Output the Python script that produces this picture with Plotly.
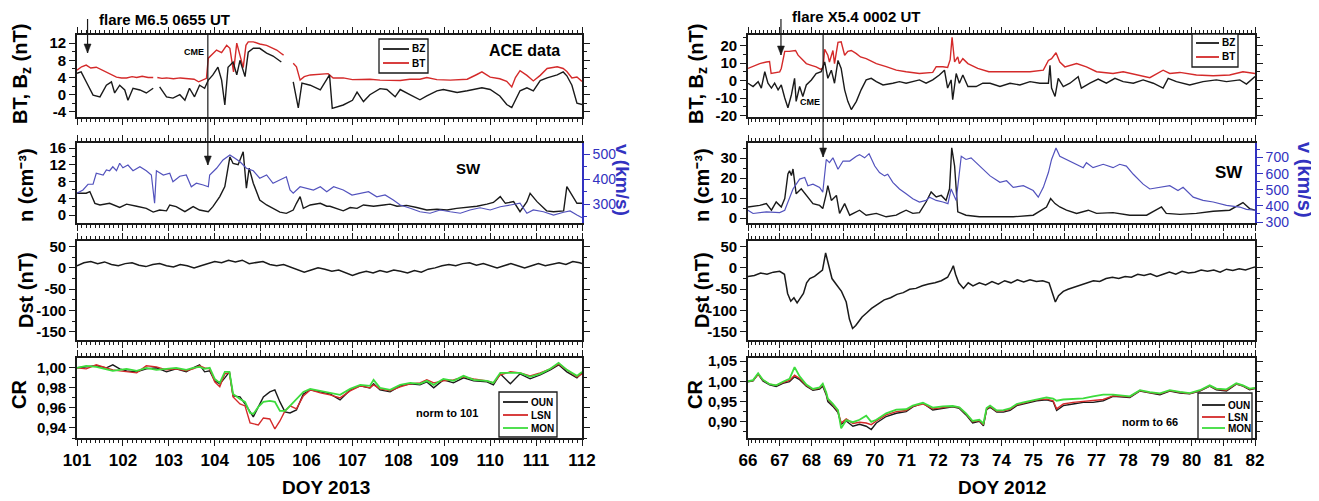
import plotly.graph_objects as go

# page has an 8px body margin: the figure is drawn 8px in from the window corner
PAGE_W, PAGE_H, OFF = 1319, 501, 8
W, H = PAGE_W - OFF, PAGE_H - OFF

# ---------------- LEFT: DOY 2013 ----------------
t_bz_L = [101.0, 101.09, 101.2, 101.35, 101.5, 101.64, 101.75, 101.82, 101.93, 102.04,
          102.11, 102.22, 102.37, 102.51, 102.66, 102.69, 102.8, 102.95, 103.09, 103.24,
          103.35, 103.45, 103.56, 103.67, 103.78, 103.86, 103.96, 104.07, 104.15, 104.22,
          104.29, 104.4, 104.48, 104.55, 104.66, 104.73, 104.84, 104.98, 105.13, 105.27,
          105.45, 105.55, 105.71, 105.82, 105.9, 106.08, 106.3, 106.44, 106.5, 106.56,
          106.8, 107.0, 107.1, 107.24, 107.38, 107.6, 107.75, 107.93, 108.04, 108.25,
          108.47, 108.62, 108.84, 108.98, 109.13, 109.28, 109.5, 109.71, 109.82, 110.0,
          110.21, 110.36, 110.47, 110.65, 110.8, 110.94, 111.09, 111.24, 111.46, 111.59,
          111.67, 111.78, 111.89, 112.0]
bz_L = [5.0, 5.3, 3.0, -0.1, -0.5, 2.2, 3.0, 0.4, 2.2, 1.1,
        -1.3, 1.5, 1.1, 0.4, 1.5, None, 1.8, -0.5, -0.8, 0.0,
        -1.3, 1.5, -0.5, 2.2, 1.5, 3.4, 4.6, 6.4, 3.4, -2.4,
        6.4, 7.6, 4.6, 8.0, 4.2, 9.9, 10.8, 10.8, 9.7, 9.0,
        7.6, None, 3.0, -3.1, 2.7, 2.2, 1.1, 3.4, 4.6, -3.2,
        -2.4, -1.3, 0.6, -1.6, 0.0, 1.4, 1.2, -0.5, 1.2, 0.0,
        -1.2, -0.3, 0.9, 1.2, 0.9, 0.5, 0.9, 1.4, 1.6, 1.2,
        -0.3, -2.3, -3.0, 0.9, 1.6, 0.9, 3.3, 3.9, 4.6, 5.3,
        4.4, 2.2, -2.0, -2.3]

t_bt_L = [101.0, 101.1, 101.2, 101.3, 101.42, 101.53, 101.64, 101.75, 101.86, 101.97,
          102.08, 102.2, 102.3, 102.42, 102.55, 102.66, 102.69, 102.75, 102.85, 102.95,
          103.1, 103.25, 103.4, 103.55, 103.65, 103.72, 103.82, 103.86, 103.95, 104.04,
          104.15, 104.26, 104.33, 104.41, 104.48, 104.55, 104.62, 104.68, 104.73, 104.84,
          104.98, 105.13, 105.25, 105.35, 105.45, 105.5, 105.55, 105.71, 105.78, 105.86,
          105.95, 106.08, 106.3, 106.47, 106.58, 106.8, 107.0, 107.38, 107.6, 108.04,
          108.25, 108.47, 108.62, 108.84, 109.13, 109.5, 109.71, 109.82, 110.0, 110.21,
          110.36, 110.47, 110.55, 110.65, 110.8, 110.94, 111.09, 111.24, 111.46, 111.59,
          111.67, 111.78, 111.89, 112.0]
bt_L = [5.7, 6.5, 6.9, 6.2, 6.4, 5.8, 5.3, 4.6, 4.1, 3.9,
        3.9, 4.2, 4.0, 4.3, 4.0, 4.0, None, 4.0, 3.8, 3.9,
        3.7, 3.9, 3.8, 3.6, 3.0, 3.3, 3.8, 8.5, 9.5, 10.4,
        9.8, 11.5, 10.8, 5.3, 12.0, 9.0, 6.3, 11.5, 12.3, 12.3,
        11.8, 11.5, 10.8, 10.4, 9.6, 9.2, None, 7.3, 6.5, 3.4,
        4.2, 4.6, 4.8, 4.9, 3.9, 3.9, 3.5, 3.6, 3.4, 3.3,
        3.6, 3.6, 4.0, 3.5, 3.4, 3.6, 4.7, 5.3, 4.1, 3.7,
        3.1, 1.8, 4.0, 5.6, 4.5, 3.2, 4.5, 6.1, 6.5, 6.1,
        5.4, 3.9, 4.1, 3.1]

t_n_L = [101.0, 101.2, 101.28, 101.39, 101.5, 101.71, 101.93, 102.08, 102.3, 102.51,
         102.66, 102.8, 102.95, 103.02, 103.16, 103.35, 103.53, 103.67, 103.86, 103.96,
         104.11, 104.22, 104.33, 104.4, 104.51, 104.62, 104.69, 104.75, 104.84, 104.98,
         105.13, 105.27, 105.42, 105.56, 105.71, 105.78, 105.86, 105.93, 106.08, 106.3,
         106.44, 106.51, 106.66, 106.8, 106.95, 107.1, 107.24, 107.46, 107.68, 107.82,
         107.97, 108.18, 108.4, 108.62, 108.84, 109.06, 109.27, 109.49, 109.71, 109.93,
         110.07, 110.22, 110.33, 110.51, 110.65, 110.8, 110.87, 111.02, 111.23, 111.38,
         111.6, 111.67, 111.78, 111.89, 112.0]
n_L = [5.2, 5.2, 5.6, 2.8, 2.4, 2.8, 1.8, 2.6, 2.1, 1.6,
       0.7, 1.2, 1.0, 2.4, 2.0, 0.8, 2.0, 1.2, 0.8, 2.0,
       4.4, 6.8, 13.9, 12.3, 12.0, 15.1, 6.4, 11.2, 7.6, 3.6,
       2.4, 1.6, 0.7, 0.4, 1.2, 2.8, 4.4, 1.6, 2.4, 2.8,
       2.1, 2.1, 1.6, 1.0, 1.8, 1.6, 2.4, 2.1, 2.4, 2.6,
       2.1, 2.3, 1.8, 1.2, 1.4, 1.2, 1.6, 1.8, 2.1, 2.6,
       3.0, 4.4, 2.8, 3.2, 0.8, 3.2, 5.2, 3.2, 1.0, 0.8,
       1.0, 6.8, 4.8, 2.8, 2.8]

t_v_L = [101.0, 101.13, 101.24, 101.35, 101.42, 101.57, 101.64, 101.71, 101.78, 101.86,
         101.93, 102.0, 102.11, 102.22, 102.37, 102.51, 102.62, 102.69, 102.73, 102.88,
         103.02, 103.09, 103.24, 103.38, 103.49, 103.6, 103.75, 103.86, 103.89, 104.04,
         104.18, 104.33, 104.44, 104.55, 104.69, 104.84, 104.98, 105.13, 105.27, 105.42,
         105.56, 105.64, 105.71, 105.86, 106.0, 106.15, 106.3, 106.44, 106.59, 106.8,
         106.99, 107.17, 107.35, 107.53, 107.71, 107.89, 108.04, 108.26, 108.47, 108.69,
         108.91, 109.13, 109.35, 109.56, 109.78, 110.0, 110.22, 110.44, 110.65, 110.8,
         110.94, 111.16, 111.38, 111.6, 111.74, 111.89, 112.0]
v_L = [343, 356, 379, 379, 423, 416, 436, 433, 449, 433,
       463, 445, 456, 433, 449, 433, 416, 303, 433, 416,
       423, 389, 411, 416, 369, 383, 376, 369, 416, 443,
       476, 496, 483, 469, 443, 433, 403, 416, 383, 396,
       409, 356, 343, 369, 363, 356, 369, 349, 369, 356,
       336, 343, 349, 329, 336, 316, 296, 283, 269, 263,
       276, 269, 263, 276, 285, 276, 289, 296, 303, 263,
       276, 269, 256, 267, 272, 256, 245]

t_dst_L = [101.0, 101.15, 101.3, 101.45, 101.6, 101.75, 101.9, 102.05, 102.2, 102.35,
           102.5, 102.65, 102.8, 102.95, 103.1, 103.25, 103.4, 103.55, 103.7, 103.85,
           104.0, 104.15, 104.3, 104.45, 104.6, 104.75, 104.9, 105.05, 105.2, 105.35,
           105.5, 105.65, 105.8, 105.95, 106.1, 106.25, 106.4, 106.55, 106.7, 106.85,
           107.0, 107.15, 107.3, 107.45, 107.6, 107.75, 107.9, 108.05, 108.2, 108.35,
           108.5, 108.65, 108.8, 108.95, 109.1, 109.25, 109.4, 109.55, 109.7, 109.85,
           110.0, 110.15, 110.3, 110.45, 110.6, 110.75, 110.9, 111.05, 111.2, 111.35,
           111.5, 111.65, 111.8, 111.95, 112.0]
dst_L = [5, 12, 15, 10, 14, 8, 5, 10, 12, 6,
         3, 8, 10, 5, 2, 8, 5, 0, 5, 10,
         15, 12, 18, 14, 18, 10, 12, 15, 8, 5,
         8, 2, -5, -10, -5, 0, -3, -8, -5, -12,
         -18, -12, -8, -12, -6, -10, -5, -8, -12, -6,
         -10, -3, 0, 5, 8, 5, 10, 12, 6, 10,
         5, 0, 5, 10, 5, 0, 5, 10, 5, 8,
         12, 8, 15, 12, 10]

t_cr_L = [101.0, 101.2, 101.42, 101.64, 101.78, 101.93, 102.08, 102.3, 102.51, 102.73,
          102.95, 103.16, 103.38, 103.53, 103.67, 103.78, 103.89, 104.0, 104.11, 104.22,
          104.32, 104.4, 104.55, 104.66, 104.77, 104.84, 104.95, 105.06, 105.2, 105.31,
          105.42, 105.53, 105.64, 105.78, 105.93, 106.08, 106.3, 106.51, 106.73, 106.95,
          107.17, 107.38, 107.46, 107.6, 107.82, 108.04, 108.26, 108.47, 108.62, 108.77,
          108.98, 109.2, 109.42, 109.64, 109.93, 110.07, 110.22, 110.44, 110.65, 110.87,
          111.09, 111.31, 111.49, 111.67, 111.89, 112.0]
oun_L = [1.000, 1.001, 1.002, 1.000, 1.003, 0.999, 0.997, 0.996, 0.999, 1.000,
         0.996, 0.999, 0.996, 1.000, 1.003, 0.996, 0.997, 0.987, 0.984, 0.990,
         0.996, 0.972, 0.971, 0.964, 0.956, 0.951, 0.961, 0.971, 0.976, 0.978,
         0.966, 0.956, 0.955, 0.958, 0.974, 0.978, 0.976, 0.974, 0.968, 0.978,
         0.982, 0.980, 0.984, 0.978, 0.976, 0.982, 0.984, 0.983, 0.986, 0.980,
         0.988, 0.985, 0.990, 0.987, 0.986, 0.983, 0.994, 0.984, 0.994, 0.989,
         0.993, 0.998, 1.003, 0.996, 0.990, 0.995]
lsn_L = [1.000, 0.999, 1.003, 1.000, 0.998, 0.997, 0.996, 0.995, 1.002, 1.001,
         0.998, 0.999, 0.997, 0.999, 1.002, 1.000, 0.999, 0.986, 0.981, 0.994,
         0.995, 0.971, 0.964, 0.962, 0.945, 0.944, 0.943, 0.950, 0.949, 0.939,
         0.947, 0.957, 0.962, 0.959, 0.972, 0.978, 0.975, 0.973, 0.970, 0.977,
         0.982, 0.980, 0.983, 0.979, 0.977, 0.981, 0.984, 0.985, 0.988, 0.985,
         0.987, 0.988, 0.991, 0.989, 0.987, 0.985, 0.993, 0.996, 0.995, 0.992,
         0.995, 0.999, 1.004, 0.998, 0.991, 0.994]
mon_L = [1.000, 1.002, 1.001, 0.999, 0.997, 0.998, 0.999, 0.997, 1.000, 0.998,
         0.999, 1.000, 0.998, 1.000, 1.001, 0.999, 1.000, 0.989, 0.985, 0.996,
         0.996, 0.974, 0.969, 0.966, 0.955, 0.954, 0.961, 0.966, 0.967, 0.966,
         0.957, 0.957, 0.962, 0.969, 0.976, 0.979, 0.977, 0.975, 0.973, 0.979,
         0.983, 0.982, 0.988, 0.980, 0.978, 0.983, 0.985, 0.984, 0.987, 0.983,
         0.989, 0.987, 0.992, 0.988, 0.987, 0.985, 0.995, 0.995, 0.995, 0.991,
         0.994, 0.999, 1.005, 0.998, 0.992, 0.996]

# ---------------- RIGHT: DOY 2012 ----------------
t_bt_R = [66.0, 66.2, 66.37, 66.58, 66.68, 66.73, 66.84, 67.0, 67.05, 67.1,
          67.16, 67.3, 67.5, 67.58, 67.7, 67.84, 68.0, 68.15, 68.3, 68.37,
          68.42, 68.52, 68.57, 68.68, 68.73, 68.84, 68.94, 69.05, 69.15, 69.26,
          69.42, 69.55, 69.73, 70.05, 70.36, 70.68, 70.99, 71.41, 71.83, 71.94,
          72.15, 72.3, 72.38, 72.44, 72.52, 72.62, 72.67, 72.78, 72.94, 73.25,
          73.6, 73.74, 74.37, 74.9, 75.32, 75.48, 75.58, 75.72, 75.84, 76.0,
          76.37, 76.68, 77.0, 77.52, 77.84, 78.26, 78.68, 79.1, 79.31, 79.63,
          80.15, 80.68, 81.2, 81.62, 82.0]
bt_R = [7.0, 8.5, 9.8, 10.7, 11.0, 4.1, 4.5, 5.0, 7.0, 12.1,
        16.8, 16.8, 17.3, 14.6, 12.1, 9.8, 8.8, 7.9, 6.5, 7.5,
        18.0, 14.6, 10.7, 17.3, 9.8, 22.0, 22.3, 14.6, 16.8, 17.3,
        15.5, 13.6, 12.6, 9.8, 8.0, 6.0, 5.1, 4.1, 4.7, 8.0,
        8.0, 7.5, 12.0, 24.9, 10.7, 13.6, 9.8, 12.6, 9.8, 7.0,
        5.1, 5.1, 4.7, 5.1, 6.0, 11.6, 12.6, 16.0, 10.7, 7.9,
        9.8, 7.9, 5.1, 4.1, 5.1, 3.2, 1.7, 6.0, 4.1, 4.7,
        3.2, 2.8, 3.2, 5.1, 4.1]

t_bz_R = [66.0, 66.16, 66.32, 66.42, 66.53, 66.63, 66.74, 66.84, 66.95, 67.05,
          67.16, 67.26, 67.37, 67.47, 67.52, 67.63, 67.73, 67.84, 68.0, 68.15,
          68.31, 68.42, 68.52, 68.63, 68.73, 68.84, 68.94, 69.05, 69.15, 69.26,
          69.42, 69.57, 69.73, 69.89, 70.05, 70.26, 70.57, 70.78, 70.99, 71.2,
          71.41, 71.62, 71.83, 72.04, 72.2, 72.3, 72.41, 72.46, 72.57, 72.67,
          72.78, 72.94, 73.2, 73.41, 73.64, 73.95, 74.27, 74.58, 74.9, 75.21,
          75.48, 75.53, 75.58, 75.69, 75.79, 75.95, 76.16, 76.42, 76.52, 76.79,
          77.05, 77.31, 77.58, 77.84, 78.16, 78.47, 78.79, 79.1, 79.26, 79.52,
          79.94, 80.36, 80.78, 81.1, 81.52, 81.73, 82.0]
bz_R = [-1.5, -3.4, -0.6, -4.3, 5.1, -1.5, -4.3, -1.5, -5.3, -2.5,
        -10.0, -15.6, -8.1, 1.3, -11.9, -3.4, -9.1, -2.5, 0.4, 4.1,
        5.1, 10.7, 1.3, 6.0, -1.5, 11.6, 7.0, -5.3, -11.9, -16.6,
        -11.9, -5.3, 0.4, 1.3, -0.6, -2.5, -1.5, -0.6, -1.5, -0.6,
        0.4, -1.5, 0.4, 3.2, 6.0, -4.3, 0.4, -11.0, 4.1, -1.5,
        3.2, -3.4, -3.4, -1.5, -1.5, -3.4, -1.5, -2.5, -0.6, -1.5,
        -1.5, 8.8, -4.3, -9.1, 1.3, -3.4, -1.5, 2.3, -4.3, -1.5,
        0.9, -1.5, 1.3, -0.6, -1.5, 0.4, -1.5, -4.3, 1.3, -0.6,
        -2.5, -0.6, 0.4, -0.6, 0.4, -2.0, 2.3]

t_n_R = [66.0, 66.37, 66.58, 66.74, 66.89, 67.05, 67.16, 67.26, 67.31, 67.37,
         67.42, 67.52, 67.68, 67.84, 68.05, 68.26, 68.36, 68.47, 68.52, 68.63,
         68.79, 68.89, 69.05, 69.21, 69.52, 69.73, 70.05, 70.36, 70.68, 70.78,
         70.99, 71.2, 71.41, 71.62, 71.78, 71.94, 72.1, 72.25, 72.36, 72.43,
         72.52, 72.62, 72.88, 73.3, 73.62, 74.37, 75.0, 75.26, 75.42, 75.55,
         75.69, 75.84, 76.05, 76.37, 76.74, 77.0, 77.52, 78.05, 78.58, 79.05,
         79.2, 79.63, 80.15, 80.68, 81.2, 81.62, 81.83, 82.0]
n_R = [5.5, 6.3, 7.2, 3.9, 8.0, 5.5, 9.7, 22.0, 23.6, 21.2,
       24.5, 12.1, 14.6, 11.3, 7.2, 6.3, 4.7, 12.1, 16.2, 8.8,
       11.3, 2.3, 7.2, 1.4, 3.9, 1.4, 2.3, 0.6, 1.4, 2.3,
       3.9, 2.3, 2.7, 8.0, 13.0, 10.5, 11.3, 8.8, 14.6, 35.1,
       26.0, 3.1, 1.4, 0.6, 0.6, 0.6, 1.4, 3.9, 5.5, 9.7,
       7.2, 5.5, 3.9, 2.3, 3.9, 2.3, 2.7, 1.4, 1.4, 5.5,
       2.3, 1.8, 2.3, 3.4, 3.9, 7.7, 4.7, 3.9]

t_v_R = [66.0, 66.16, 66.58, 67.0, 67.16, 67.26, 67.42, 67.63, 67.79, 67.89,
         68.05, 68.26, 68.36, 68.47, 68.57, 68.68, 68.84, 69.0, 69.21, 69.42,
         69.52, 69.68, 69.82, 70.0, 70.15, 70.31, 70.41, 70.57, 70.78, 70.99,
         71.2, 71.41, 71.62, 71.73, 71.94, 72.15, 72.31, 72.41, 72.57, 72.73,
         72.88, 73.04, 73.3, 73.64, 73.95, 74.16, 74.37, 74.69, 75.0, 75.16,
         75.32, 75.48, 75.58, 75.72, 75.84, 76.05, 76.37, 76.58, 76.68, 76.89,
         77.21, 77.52, 77.73, 77.94, 78.16, 78.47, 78.68, 79.0, 79.31, 79.57,
         79.73, 80.05, 80.36, 80.68, 81.1, 81.52, 81.73, 82.0]
v_R = [373, 353, 363, 359, 373, 424, 505, 566, 576, 525,
       535, 515, 485, 688, 668, 698, 627, 678, 678, 708,
       718, 698, 724, 647, 607, 586, 596, 546, 505, 475,
       444, 424, 434, 454, 434, 424, 414, 505, 434, 708,
       688, 698, 647, 586, 546, 556, 515, 525, 495, 454,
       515, 607, 688, 759, 708, 688, 658, 637, 668, 637,
       658, 637, 658, 647, 596, 535, 505, 515, 525, 495,
       515, 454, 434, 424, 403, 393, 379, 373]

t_dst_R = [66.0, 66.2, 66.4, 66.6, 66.8, 67.0, 67.15, 67.25, 67.35, 67.45,
           67.55, 67.65, 67.75, 67.85, 67.95, 68.1, 68.25, 68.35, 68.45, 68.55,
           68.65, 68.8, 68.95, 69.1, 69.2, 69.3, 69.4, 69.5, 69.6, 69.75,
           69.9, 70.1, 70.3, 70.5, 70.7, 70.9, 71.1, 71.3, 71.5, 71.7,
           71.9, 72.1, 72.3, 72.42, 72.48, 72.55, 72.65, 72.8, 72.95, 73.1,
           73.3, 73.5, 73.7, 73.9, 74.1, 74.3, 74.5, 74.7, 74.9, 75.1,
           75.3, 75.5, 75.62, 75.7, 75.8, 75.95, 76.1, 76.3, 76.5, 76.7,
           76.9, 77.1, 77.3, 77.5, 77.7, 77.9, 78.1, 78.3, 78.5, 78.7,
           78.9, 79.1, 79.3, 79.5, 79.7, 79.9, 80.1, 80.3, 80.5, 80.7,
           80.9, 81.1, 81.3, 81.5, 81.7, 81.9, 82.0]
dst_R = [-20, -18, -12, -15, -10, -8, -15, -60, -78, -70,
         -82, -72, -60, -35, -25, -20, -12, -5, 35, 5,
         -25, -40, -55, -80, -120, -142, -135, -125, -115, -105,
         -95, -85, -75, -70, -62, -58, -50, -48, -42, -38,
         -35, -30, -22, -5, 5, -15, -35, -48, -35, -42,
         -35, -40, -32, -38, -30, -35, -28, -33, -28, -32,
         -30, -35, -60, -80, -65, -55, -50, -45, -40, -35,
         -30, -32, -25, -22, -25, -20, -22, -15, -18, -14,
         -20, -15, -10, -15, -8, -12, -10, -5, -8, -5,
         -10, -3, -6, -2, -5, 0, 2]

t_cr_R = [66.0, 66.16, 66.32, 66.47, 66.68, 66.89, 67.1, 67.31, 67.47, 67.63,
          67.84, 68.05, 68.26, 68.36, 68.47, 68.52, 68.68, 68.84, 68.94, 69.1,
          69.31, 69.52, 69.73, 69.89, 70.05, 70.36, 70.68, 70.99, 71.2, 71.52,
          71.83, 72.15, 72.46, 72.67, 72.88, 73.09, 73.3, 73.43, 73.53, 73.64,
          73.85, 74.06, 74.27, 74.48, 74.69, 74.9, 75.11, 75.42, 75.63, 75.74,
          75.95, 76.26, 76.58, 76.89, 77.21, 77.52, 77.84, 78.05, 78.37, 78.68,
          79.0, 79.31, 79.63, 79.94, 80.26, 80.57, 80.78, 81.1, 81.41, 81.62,
          81.83, 82.0]
oun_R = [0.999, 1.001, 1.018, 1.001, 0.991, 0.987, 0.995, 0.999, 1.011, 1.004,
         0.988, 0.978, 0.981, 0.988, 0.966, 0.950, 0.938, 0.923, 0.894, 0.902,
         0.889, 0.894, 0.889, 0.881, 0.897, 0.913, 0.921, 0.925, 0.937, 0.946,
         0.929, 0.933, 0.937, 0.933, 0.917, 0.897, 0.901, 0.890, 0.930, 0.936,
         0.924, 0.924, 0.928, 0.940, 0.944, 0.948, 0.952, 0.954, 0.950, 0.928,
         0.940, 0.944, 0.948, 0.948, 0.952, 0.963, 0.961, 0.960, 0.976, 0.971,
         0.967, 0.976, 0.971, 0.969, 0.976, 0.988, 0.979, 0.976, 0.993, 0.988,
         0.979, 0.982]
lsn_R = [1.000, 1.002, 1.017, 1.003, 0.993, 0.990, 0.997, 1.002, 1.015, 1.007,
         0.990, 0.980, 0.983, 0.992, 0.970, 0.955, 0.942, 0.926, 0.897, 0.907,
         0.896, 0.899, 0.897, 0.893, 0.902, 0.917, 0.925, 0.928, 0.938, 0.944,
         0.932, 0.935, 0.938, 0.935, 0.920, 0.900, 0.903, 0.893, 0.932, 0.938,
         0.926, 0.927, 0.931, 0.942, 0.946, 0.950, 0.954, 0.956, 0.952, 0.932,
         0.944, 0.948, 0.950, 0.952, 0.955, 0.964, 0.963, 0.962, 0.977, 0.972,
         0.969, 0.977, 0.973, 0.970, 0.977, 0.989, 0.981, 0.978, 0.994, 0.989,
         0.981, 0.983]
mon_R = [1.000, 1.003, 1.020, 1.004, 0.993, 0.990, 0.999, 1.006, 1.035, 1.012,
         0.992, 0.981, 0.985, 0.994, 0.972, 0.957, 0.944, 0.929, 0.884, 0.904,
         0.899, 0.905, 0.915, 0.900, 0.905, 0.921, 0.930, 0.931, 0.940, 0.947,
         0.935, 0.938, 0.939, 0.936, 0.921, 0.902, 0.905, 0.896, 0.934, 0.940,
         0.928, 0.929, 0.933, 0.944, 0.948, 0.952, 0.956, 0.960, 0.957, 0.952,
         0.955, 0.957, 0.958, 0.963, 0.967, 0.967, 0.965, 0.963, 0.978, 0.973,
         0.970, 0.978, 0.974, 0.971, 0.978, 0.990, 0.982, 0.980, 0.995, 0.990,
         0.982, 0.984]

# tick labels
bt_ticks_L = [12, 8, 4, 0, -4]
bt_text_L = ["12", "8", "4", "0", "-4"]
n_ticks_L = [16, 12, 8, 4, 0]
bt_ticks_R = [20, 10, 0, -10, -20]
bt_text_R = ["20", "10", "0", "-10", "-20"]
n_ticks_R = [30, 20, 10, 0]
dst_ticks = [50, 0, -50, -100, -150]
dst_text = ["50", "0", "-50", "-100", "-150"]
cr_ticks_L = [1.00, 0.98, 0.96, 0.94]
cr_text_L = ["1,00", "0,98", "0,96", "0,94"]
cr_ticks_R = [1.05, 1.00, 0.95, 0.90]
cr_text_R = ["1,05", "1,00", "0,95", "0,90"]

# ---------------- figure ----------------
FONT = "Liberation Sans, Arial, sans-serif"
BLACK = "#1a1a1a"
RED = "#d42a2a"
BLUE = "#5252bd"
AXBLUE = "#3232c0"
GREEN = "#3ddc3d"


def fx(p):
    return (p - OFF) / W


def fy(p):
    return 1 - (p - OFF) / H


LX = (77, 582)
RX = (748, 1255)
ROWS = [(35, 117), (143, 223), (241, 340), (358, 438)]

fig = go.Figure()
layout = dict(width=W, height=H, margin=dict(l=0, r=0, t=0, b=0, autoexpand=False),
              paper_bgcolor="white", plot_bgcolor="white", showlegend=False,
              font=dict(family=FONT, color="black"))


def xaxis(dom, rng, anchor, labels, minor_dt):
    return dict(domain=[fx(dom[0]), fx(dom[1])], range=rng, anchor=anchor, automargin=False,
                showline=True, linecolor=BLACK, linewidth=1.6, mirror="ticks",
                ticks="outside", ticklen=6, tickwidth=1.4, tickcolor=BLACK,
                tickmode="linear", tick0=0, dtick=1, showticklabels=labels,
                tickfont=dict(family=FONT, size=17, color="black", weight="bold"),
                minor=dict(ticks="outside", ticklen=3, tickwidth=1, tickcolor=BLACK,
                           tickmode="linear", dtick=minor_dt, tick0=0),
                showgrid=False, zeroline=False)


def yaxis(row, rng, anchor, tv, tt, mdt, mirror="ticks"):
    t, b = ROWS[row]
    return dict(domain=[fy(b), fy(t)], range=rng, anchor=anchor, automargin=False,
                showline=True, linecolor=BLACK, linewidth=1.6, mirror=mirror,
                ticks="outside", ticklen=6, tickwidth=1.4, tickcolor=BLACK,
                tickmode="array", tickvals=tv, ticktext=tt,
                tickfont=dict(family=FONT, size=15, color="black", weight="bold"),
                minor=dict(ticks="outside", ticklen=3, tickwidth=1, tickcolor=BLACK,
                           tickmode="linear", dtick=mdt, tick0=0),
                showgrid=False, zeroline=False)


for i in range(4):
    layout["xaxis" + ("" if i == 0 else str(i + 1))] = xaxis(LX, [101, 112], "y" + ("" if i == 0 else str(i + 1)), i == 3, 0.1)
    layout["xaxis" + str(i + 5)] = xaxis(RX, [66, 82], "y" + str(i + 5), i == 3, 0.125)

layout["yaxis"] = yaxis(0, [-5.2, 13.9], "x", bt_ticks_L, bt_text_L, 2)
layout["yaxis2"] = yaxis(1, [-1.9, 17.2], "x2", n_ticks_L, [str(v) for v in n_ticks_L], 2, mirror=False)
layout["yaxis3"] = yaxis(2, [-169, 63], "x3", dst_ticks, dst_text, 25)
layout["yaxis4"] = yaxis(3, [0.930, 1.0098], "x4", cr_ticks_L, cr_text_L, 0.01)
layout["yaxis5"] = yaxis(0, [-20.9, 26.2], "x5", bt_ticks_R, bt_text_R, 5)
layout["yaxis6"] = yaxis(1, [-2.5, 37.5], "x6", n_ticks_R, [str(v) for v in n_ticks_R], 5, mirror=False)
layout["yaxis7"] = yaxis(2, [-169, 63], "x7", dst_ticks, dst_text, 25)
layout["yaxis8"] = yaxis(3, [0.86, 1.0575], "x8", cr_ticks_R, cr_text_R, 0.025)


def vaxis(overlay, anchor, rng):
    return dict(overlaying=overlay, side="right", anchor=anchor, range=rng, automargin=False,
                showline=True, linecolor=AXBLUE, linewidth=1.6,
                ticks="outside", ticklen=6, tickwidth=1.4, tickcolor=AXBLUE,
                tickmode="linear", tick0=0, dtick=100,
                tickfont=dict(family=FONT, size=14, color=AXBLUE),
                minor=dict(ticks="outside", ticklen=3, tickwidth=1, tickcolor=AXBLUE,
                           tickmode="linear", dtick=50, tick0=0),
                showgrid=False, zeroline=False)


layout["yaxis9"] = vaxis("y2", "x2", [224, 544])
layout["yaxis10"] = vaxis("y6", "x6", [294, 790])


def add(x, y, color, xa, ya, w=1.4):
    fig.add_trace(go.Scatter(x=x, y=y, mode="lines", line=dict(color=color, width=w),
                             xaxis=xa, yaxis=ya, connectgaps=False, hoverinfo="skip"))


add(t_bt_L, bt_L, RED, "x", "y")
add(t_bz_L, bz_L, BLACK, "x", "y")
add(t_v_L, v_L, BLUE, "x2", "y9", 1.2)
add(t_n_L, n_L, BLACK, "x2", "y2")
add(t_dst_L, dst_L, BLACK, "x3", "y3", 1.5)
add(t_cr_L, oun_L, BLACK, "x4", "y4")
add(t_cr_L, lsn_L, RED, "x4", "y4")
add(t_cr_L, mon_L, GREEN, "x4", "y4", 1.8)
add(t_bt_R, bt_R, RED, "x5", "y5")
add(t_bz_R, bz_R, BLACK, "x5", "y5")
add(t_v_R, v_R, BLUE, "x6", "y10", 1.2)
add(t_n_R, n_R, BLACK, "x6", "y6")
add(t_dst_R, dst_R, BLACK, "x7", "y7", 1.5)
add(t_cr_R, oun_R, BLACK, "x8", "y8")
add(t_cr_R, lsn_R, RED, "x8", "y8")
add(t_cr_R, mon_R, GREEN, "x8", "y8", 1.8)

annotations = []
shapes = []


def text(s, xp, yp, size, bold=True, color="black", angle=0, xanchor="center"):
    annotations.append(dict(text=s, x=fx(xp), y=fy(yp), xref="paper", yref="paper",
                            xanchor=xanchor, yanchor="middle", showarrow=False,
                            textangle=angle,
                            font=dict(family=FONT, size=size, color=color,
                                      weight="bold" if bold else "normal")))


def arrow(xd, xref, head_py, tail_py):
    shapes.append(dict(type="line", xref=xref, yref="paper", x0=xd, x1=xd,
                       y0=fy(tail_py), y1=fy(head_py), line=dict(color=BLACK, width=1.2)))
    shapes.append(dict(type="path", xref=xref, yref="paper", xsizemode="pixel",
                       ysizemode="pixel", xanchor=xd, yanchor=fy(head_py),
                       path="M 0 0 L -3.5 9 L 3.5 9 Z", fillcolor=BLACK,
                       line=dict(color=BLACK, width=0.5)))


def legend(box, entries, lx0, lx1, tx):
    x0, y0, x1, y1 = box
    shapes.append(dict(type="rect", xref="paper", yref="paper", x0=fx(x0), x1=fx(x1),
                       y0=fy(y1), y1=fy(y0), line=dict(color=BLACK, width=1.3),
                       fillcolor="white", layer="above"))
    for name, color, py in entries:
        shapes.append(dict(type="line", xref="paper", yref="paper", x0=fx(lx0), x1=fx(lx1),
                           y0=fy(py), y1=fy(py), line=dict(color=color, width=1.8)))
        text(name, tx, py, 10, xanchor="left")


text("flare M6.5 0655 UT", 97, 20, 15, xanchor="left")
text("flare X5.4 0002 UT", 790, 17, 15, xanchor="left")
text("CME", 194, 52, 9)
text("CME", 810, 102, 9)
text("ACE data", 524, 50, 16)
text("SW", 468, 168, 15)
text("SW", 1229, 172, 17)
text("norm to 101", 447, 413, 11)
text("norm to 66", 1150, 422, 11)
text("DOY 2013", 326, 487, 19)
text("DOY 2012", 1002, 487, 19)

for xc in (21, 697):
    text("BT, B<sub>z</sub> (nT)", xc, 74, 20, angle=-90)
    text("n (cm\u207b\u00b3)", xc + 5, 185, 20, angle=-90)
    text("Dst (nT)", xc + 5, 290, 20, angle=-90)
    text("CR", xc - 2, 395, 20, angle=-90)
text("v (km/s)", 622, 180, 19, color=AXBLUE, angle=90)
text("v (km/s)", 1305, 180, 20, color=AXBLUE, angle=90)

arrow(101.23, "x", 53, 19)
arrow(67.04, "x5", 55, 19)
arrow(103.85, "x", 165, 35)
arrow(68.37, "x5", 157, 33)

legend((379, 39, 428, 73), [("BZ", BLACK, 49), ("BT", RED, 63)], 383, 409, 410)
legend((1192, 34, 1238, 67), [("BZ", BLACK, 43), ("BT", RED, 57)], 1196, 1219, 1220)
legend((499, 392, 557, 437), [("OUN", BLACK, 402), ("LSN", RED, 415), ("MON", GREEN, 428)], 503, 528, 529)
legend((1198, 393, 1252, 439), [("OUN", BLACK, 405), ("LSN", RED, 417), ("MON", GREEN, 428)], 1202, 1225, 1226)

layout["annotations"] = annotations
layout["shapes"] = shapes
fig.update_layout(**layout)
fig.write_html("out.html")
